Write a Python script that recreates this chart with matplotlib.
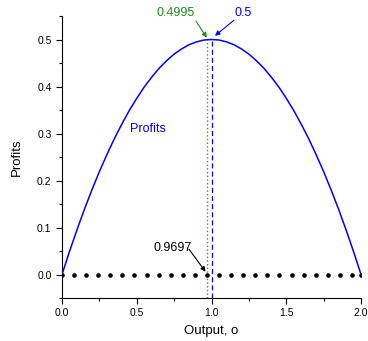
import matplotlib.pyplot as plt
import numpy as np
from matplotlib.ticker import MultipleLocator

plt.rcParams['font.family'] = ['Liberation Sans', 'DejaVu Sans']

# profit curve
output = [0.00, 0.05, 0.10, 0.15, 0.20, 0.25, 0.30, 0.35, 0.40, 0.45,
          0.50, 0.55, 0.60, 0.65, 0.70, 0.75, 0.80, 0.85, 0.90, 0.95,
          1.00, 1.05, 1.10, 1.15, 1.20, 1.25, 1.30, 1.35, 1.40, 1.45,
          1.50, 1.55, 1.60, 1.65, 1.70, 1.75, 1.80, 1.85, 1.90, 1.95, 2.00]
profits = [0.000, 0.049, 0.095, 0.139, 0.180, 0.219, 0.255, 0.289, 0.320, 0.349,
           0.375, 0.399, 0.420, 0.439, 0.455, 0.469, 0.480, 0.489, 0.495, 0.499,
           0.500, 0.499, 0.495, 0.489, 0.480, 0.469, 0.455, 0.439, 0.420, 0.399,
           0.375, 0.349, 0.320, 0.289, 0.255, 0.219, 0.180, 0.139, 0.095, 0.049, 0.000]

# search grid points on the axis
grid_x = [0.0000, 0.0808, 0.1616, 0.2424, 0.3232, 0.4040, 0.4848, 0.5657,
          0.6465, 0.7273, 0.8081, 0.8889, 0.9697, 1.0505, 1.1313, 1.2121,
          1.2929, 1.3737, 1.4545, 1.5354, 1.6162, 1.6970, 1.7778, 1.8586,
          1.9394, 2.0000]
grid_y = [0.0] * len(grid_x)

best_x, best_p = 0.9697, 0.4995
true_x, true_p = 1.0, 0.5

fig = plt.figure(figsize=(3.68, 3.41), dpi=100)
ax = fig.add_axes([0.1685, 0.126, 0.8125, 0.827])

ax.plot(output, profits, color='#0000ff', lw=1.1, zorder=3)
ax.plot(grid_x, grid_y, 'o', color='black', ms=2.3, zorder=4)
ax.plot([best_x, best_x], [-0.05, best_p], color='#2ca02c', ls=':', lw=1.0, zorder=2)
ax.plot([true_x, true_x], [-0.05, true_p], color='#0000ff', ls=(0, (4, 2.5)), lw=0.9, zorder=2)

# labels
ax.text(0.762, 0.557, '0.4995', color='#1a8c1a', fontsize=9, ha='center', va='center')
ax.text(1.21, 0.556, '0.5', color='#0000ff', fontsize=9, ha='center', va='center')
ax.text(0.742, 0.056, '0.9697', color='black', fontsize=9, ha='center', va='center')
ax.text(0.575, 0.31, 'Profits', color='#0000ff', fontsize=9, ha='center', va='center')

# arrows
arrows = [((0.896, 0.539), (0.969, 0.504), '#1a8c1a'),
          ((1.15, 0.541), (1.023, 0.508), '#0000ff'),
          ((0.849, 0.054), (0.960, 0.006), 'black')]
for start, end, col in arrows:
    ax.annotate('', xy=end, xytext=start,
                arrowprops=dict(arrowstyle='-|>', color=col, lw=0.8,
                                mutation_scale=7, shrinkA=0, shrinkB=0))

ax.set_xlim(0, 2)
ax.set_ylim(-0.05, 0.55)
ax.xaxis.set_major_locator(MultipleLocator(0.5))
ax.xaxis.set_minor_locator(MultipleLocator(0.25))
ax.yaxis.set_major_locator(MultipleLocator(0.1))
ax.yaxis.set_minor_locator(MultipleLocator(0.05))
ax.xaxis.set_major_formatter(plt.FormatStrFormatter('%.1f'))
ax.yaxis.set_major_formatter(plt.FormatStrFormatter('%.1f'))
ax.tick_params(which='both', direction='out', labelsize=7.5, color='black', width=0.8)
ax.tick_params(which='major', length=4)
ax.tick_params(which='minor', length=2.5)
ax.spines['top'].set_visible(False)
ax.spines['right'].set_visible(False)
ax.set_xlabel('Output, o', fontsize=9.5, labelpad=5)
ax.set_ylabel('Profits', fontsize=9.5, labelpad=10)

fig.savefig('out.png', dpi=100)
